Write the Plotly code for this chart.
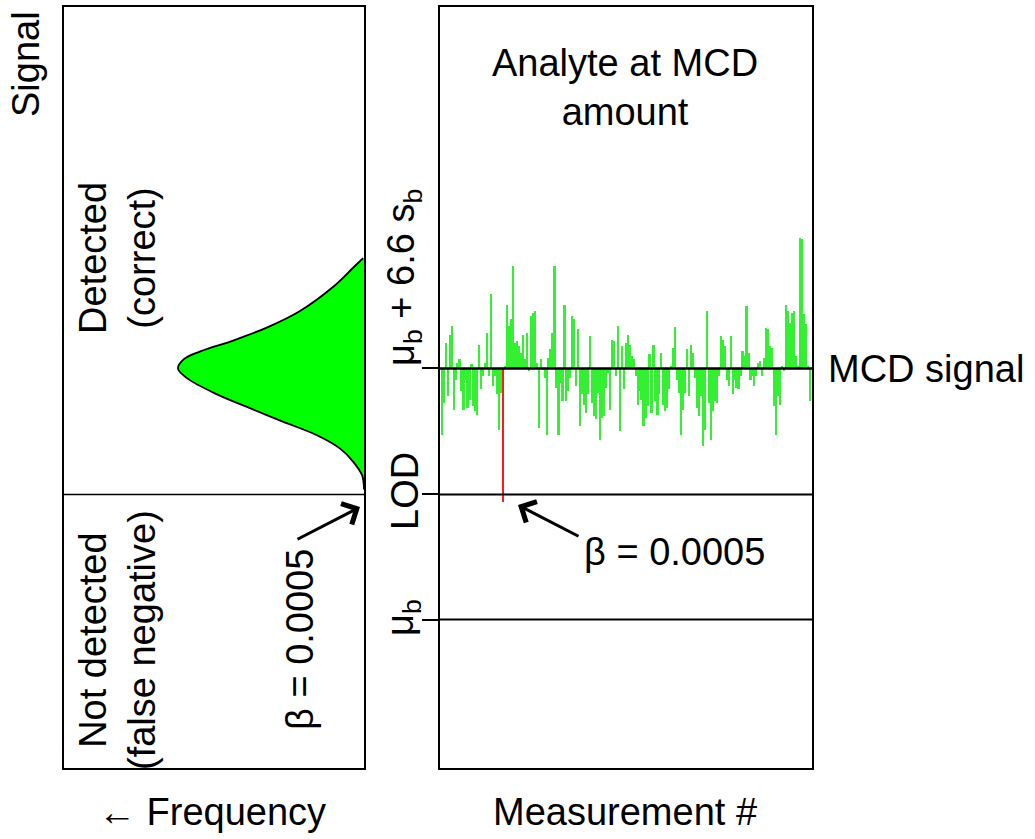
import plotly.graph_objects as go

W, H = 1035, 839
FONT = "Liberation Sans, Arial, sans-serif"

# Signal levels in units of s_b (mu_b = 0)
MU_B = 0.0
LOD = 3.29
MCD = 6.6

# Left panel: frequency distribution (signal, relative frequency)
dist_signal = [9.50, 9.24, 8.74, 8.11, 7.68, 7.34, 7.05, 6.84, 6.60, 6.34, 5.92,
               5.55, 5.21, 4.84, 4.50, 4.16, 3.79, 3.42]
dist_freq = [0.005, 0.06, 0.167, 0.344, 0.52, 0.70, 0.88, 0.97, 1.0, 0.95, 0.79,
             0.61, 0.44, 0.25, 0.13, 0.06, 0.01, 0.0]

meas_dev = [
    -1.74, -0.90, 0.68, -0.73, 0.89, 1.11, -1.08, -0.29, 0.15, 0.24,
    -0.60, -1.08, -0.29, -1.04, -0.82, 0.11, -0.99, -1.12, -1.21, 0.63,
    -0.55, -0.20, 0.15, 0.94, -0.20, 1.97, -0.46, -0.20, -0.68, -1.61,
    -0.64, -3.50, 0.06, 1.68, 1.11, 1.29, 2.69, 0.68, 0.72, 0.59,
    0.41, 0.89, 0.24, 0.94, -0.07, 1.38, 1.46, 1.51, 0.15, -1.56,
    0.24, -0.03, -0.25, -1.74, 0.28, 0.50, 0.94, 2.69,
    -0.51, -1.74, -0.38, -0.86, 1.68,
    -0.86, -0.60, -0.25, 1.38, 1.29,
    -0.46, 1.03, -1.52, -0.68, -0.95,
    -1.17, -0.68, 0.85, -0.90, -1.25,
    -1.34, -0.64, -1.87, -1.30, -1.25,
    -0.51, -0.11, -1.08, 0.76, 0.72,
    -0.20, 1.11, -1.65, 0.59, -0.55,
    0.68, 0.89, 0.63, 0.32, 0.24,
    -0.20, -0.95, -0.60, -0.82, -1.52,
    -1.30, -0.99, 0.37, -1.17, 0.63,
    -0.86, -1.21, -0.68, 0.41, -0.95,
    -1.12, -1.04, -0.55, 0.06, 0.54,
    1.10, -0.29, -0.64, -1.74, -1.08,
    -0.64, 0.50, -0.73, 0.63, 0.41,
    -0.25, -1.04, -1.25, -0.73, -2.04,
    -1.61, 1.51, -0.90, -1.87, -1.12,
    -0.86, -0.90, -0.20, 0.85, 0.76,
    0.59, -0.29, -0.46, 0.85, -0.68,
    -0.29, -0.51, -0.55, -0.20, 0.46,
    0.32, 1.64, 0.41, -0.29, -0.20,
    -0.46, -0.20, 0.15, 0.19, -0.20,
    0.28, 1.07, 1.03, 0.59, 0.54,
    -0.99, -1.74, -0.73, -0.95, 0.06,
    -0.07, 1.68, 1.51, 1.20, 1.46,
    1.51, 0.32, 0.06, 3.44, 3.39,
    1.42, 1.16, 0.06, -0.86,
]
RED_INDEX = 31  # the measurement that falls to the LOD

meas_x = list(range(1, len(meas_dev) + 1))
bar_colors = ["#ff1a1a" if i == RED_INDEX else "#33f033" for i in range(len(meas_dev))]


def px(x):
    return x / W


def py(y):
    return 1 - y / H


fig = go.Figure()

fig.add_trace(go.Scatter(
    x=dist_freq, y=dist_signal, mode="lines",
    line=dict(color="black", width=1.8, shape="spline"),
    fill="tozerox", fillcolor="#00ff00",
    xaxis="x", yaxis="y", showlegend=False, hoverinfo="skip",
))

fig.add_trace(go.Bar(
    x=meas_x, y=meas_dev, base=MCD,
    marker=dict(color=bar_colors, line=dict(width=0)),
    width=0.85, xaxis="x2", yaxis="y2", showlegend=False,
))

y_range = [-3.9, 16.1]
y_dom = [py(768), py(7)]

axis_common = dict(showline=True, mirror=True, linecolor="black", linewidth=2,
                   showgrid=False, zeroline=False, showticklabels=False)

fig.update_layout(
    width=W, height=H,
    margin=dict(l=0, r=0, t=0, b=0),
    paper_bgcolor="white", plot_bgcolor="white",
    bargap=0,
    xaxis=dict(domain=[px(64), px(364)], range=[1.613, 0], ticks="", **axis_common),
    yaxis=dict(domain=y_dom, range=y_range, ticks="", **axis_common),
    xaxis2=dict(domain=[px(440), px(812)], range=[0, len(meas_dev) + 1], ticks="",
                anchor="y2", **axis_common),
    yaxis2=dict(domain=y_dom, range=y_range, anchor="x2", ticks="outside",
                tickvals=[MU_B, LOD, MCD], ticklen=16, tickwidth=2, tickcolor="black",
                **axis_common),
)

# horizontal reference lines
fig.add_shape(type="line", xref="x domain", yref="y", x0=0, x1=1, y0=LOD, y1=LOD,
              line=dict(color="black", width=1.5))
for lvl, wdt in [(MCD, 2.5), (LOD, 2), (MU_B, 2)]:
    fig.add_shape(type="line", xref="x2 domain", yref="y2", x0=0, x1=1, y0=lvl, y1=lvl,
                  line=dict(color="black", width=wdt))

FS = 38


def txt(text, x, y, angle=0, xanchor="center", size=FS):
    fig.add_annotation(text=text, x=px(x), y=py(y), xref="paper", yref="paper",
                       showarrow=False, textangle=angle, xanchor=xanchor, yanchor="middle",
                       font=dict(family=FONT, size=size, color="black"))


txt("Signal", 26, 64, angle=-90)
txt("Detected<br>(correct)", 117, 258, angle=-90)
txt("Not detected<br>(false negative)", 117, 640, angle=-90)
txt("β = 0.0005", 300, 640, angle=-90)
txt("μ<sub>b</sub> + 6.6 s<sub>b</sub>", 404, 278, angle=-90)
txt("LOD", 405, 491, angle=-90)
txt("μ<sub>b</sub>", 403, 618, angle=-90)
txt("Analyte at MCD<br>amount", 625, 87)
txt("MCD signal", 826, 369, xanchor="left")
txt("β = 0.0005", 674, 552)
txt("← Frequency", 212, 812)
txt("Measurement #", 625, 812)

# arrows
for (hx, hy, tx, ty) in [(360, 507, 296, 540), (518, 505, 580, 537)]:
    fig.add_annotation(x=px(hx), y=py(hy), xref="paper", yref="paper",
                       ax=tx - hx, ay=ty - hy, axref="pixel", ayref="pixel",
                       showarrow=True, arrowhead=4, arrowsize=1.5, arrowwidth=3,
                       arrowcolor="black", text="")

fig.write_html(
    "out.html",
    config={"displayModeBar": False},
    post_script="document.body.style.margin='0';document.body.style.overflow='hidden';",
)
